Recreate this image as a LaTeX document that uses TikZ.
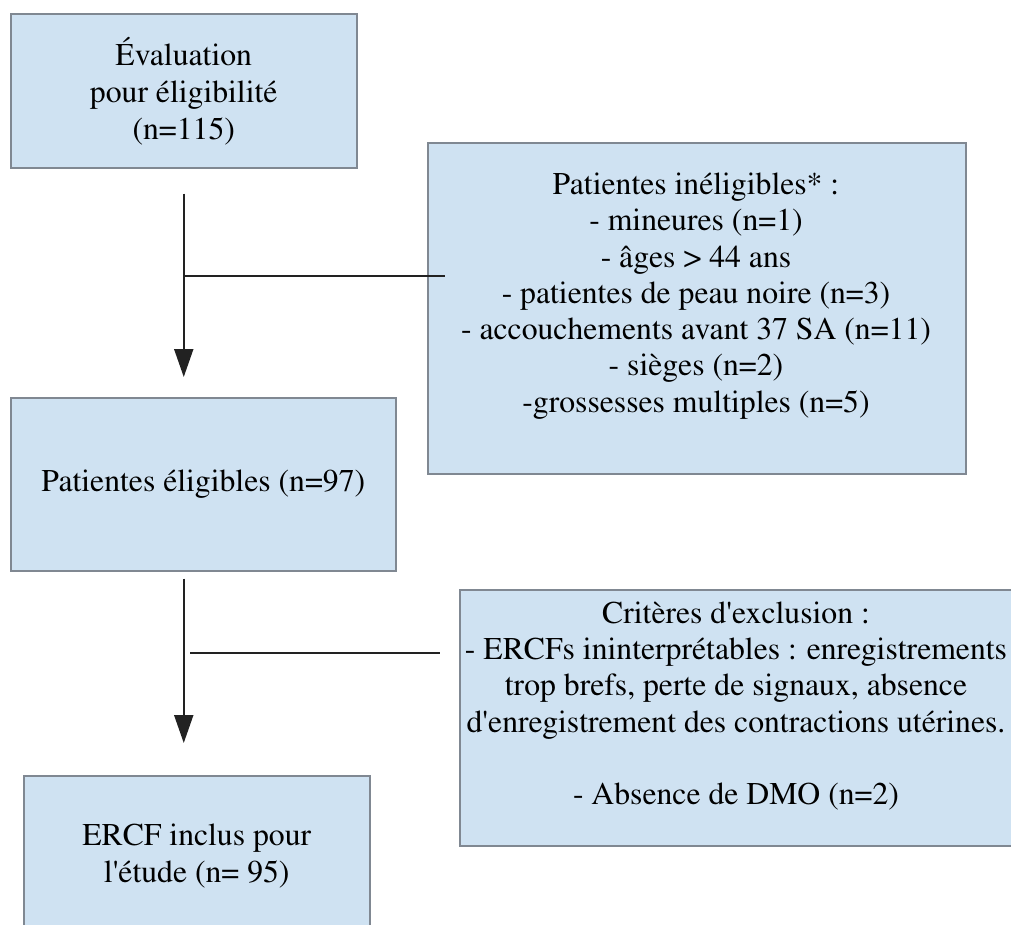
\documentclass[tikz,border=0pt]{standalone}
\usepackage[T1]{fontenc}
\usepackage{times}
\usetikzlibrary{arrows.meta,positioning}
\definecolor{boxfill}{RGB}{207,226,242}
\definecolor{boxline}{RGB}{128,136,146}
\definecolor{linkline}{RGB}{34,34,34}
\tikzset{
  boxtext/.style={align=center, inner sep=0pt, font=\fontsize{31.7}{37}\selectfont},
  flowbox/.style={boxtext, draw=boxline, line width=1.5pt, fill=boxfill, anchor=north west},
  tightlines/.style={font=\fontsize{31.7}{36.3}\selectfont},
  link/.style={draw=linkline, line width=2pt},
  flowarrow/.style={link, -{Stealth[inset=0pt,length=28pt,width=19pt]}},
}

\begin{document}
\begin{tikzpicture}[x=1pt,y=-1pt]
  \useasboundingbox (0,0) rectangle (1011,924);
  % boxes
  \node[flowbox, minimum width=346pt, minimum height=154pt] (eval) at (10,13)
    {\'Evaluation\\ pour \'eligibilit\'e\\ (n=115)};
  \node[flowbox, minimum width=538pt, minimum height=331pt] (inel) at (427,142) {};
  \node[boxtext, tightlines] (ineltxt) at (696,296)
    {Patientes in\'eligibles* :\\ - mineures (n=1)\\ - \^ages > 44 ans\\
     - patientes de peau noire (n=3)\\ - accouchements avant 37 SA (n=11)\\
     - si\`eges (n=2)\\ -grossesses multiples (n=5)};
  \node[flowbox, minimum width=385pt, minimum height=173pt] (elig) at (10,397)
    {Patientes \'eligibles (n=97)};
  \node[flowbox, minimum width=555pt, minimum height=256pt] (excl) at (459,589) {};
  \node[boxtext, tightlines] (excltxt) at (736,706)
    {Crit\`eres d\textquotesingle exclusion :\\
     - ERCFs ininterpr\'etables : enregistrements\\
     trop brefs, perte de signaux, absence\\
     d\textquotesingle enregistrement des contractions ut\'erines.\\[36.3pt]
     - Absence de DMO (n=2)};
  \node[flowbox, minimum width=346pt, minimum height=160pt] (incl) at (23,775)
    {ERCF inclus pour\\ l\textquotesingle\'etude (n= 95)};
  % connectors
  \coordinate (j1) at (183,276);
  \coordinate (j2) at (183,653);
  \draw[flowarrow] ([yshift=-25pt]eval.south) -- ([yshift=20pt]eval.south |- elig.north);
  \draw[flowarrow] ([yshift=-7pt]eval.south |- elig.south) -- ([yshift=32pt]eval.south |- incl.north);
  \draw[link] (j1) -- ([xshift=18pt]j1 -| inel.west);
  \draw[link] ([xshift=7pt]j2) -- ([xshift=-19pt]j2 -| excl.west);
\end{tikzpicture}
\end{document}
